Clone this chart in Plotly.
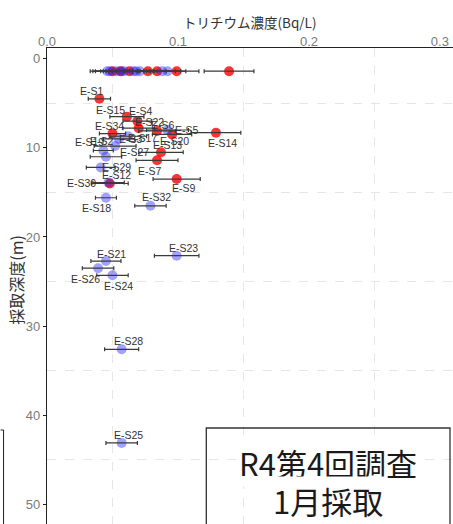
import plotly.graph_objects as go

# ---- data ----
names = ["", "", "", "", "", "", "", "", "", "", "", "", "", "", "", "", "",
         "E-S1", "E-S15", "E-S4", "E-S22", "E-S34", "E-S6", "E-S5", "E-S20", "E-S14",
         "E-S3", "E-S17", "E-S2", "E-S19", "E-S27", "E-S13", "E-S7", "E-S29", "E-S30",
         "E-S12", "E-S9", "E-S18", "E-S32", "E-S23", "E-S21", "E-S26", "E-S24", "E-S28", "E-S25"]
conc = [0.046, 0.050, 0.053, 0.056, 0.059, 0.063, 0.066, 0.071, 0.077, 0.084, 0.088, 0.092, 0.099, 0.139,
        0.048, 0.057, 0.068,
        0.040, 0.061, 0.069, 0.070, 0.050, 0.084, 0.092, 0.0955, 0.129,
        0.055, 0.062, 0.052, 0.043, 0.045, 0.087, 0.084, 0.041, 0.047,
        0.048, 0.099, 0.045, 0.079, 0.099, 0.045, 0.039, 0.050, 0.057, 0.057]
depth = [1.4, 1.4, 1.4, 1.4, 1.4, 1.4, 1.4, 1.4, 1.4, 1.4, 1.4, 1.4, 1.4, 1.4,
         1.4, 1.4, 1.4,
         4.5, 6.5, 7.0, 7.8, 8.4, 8.1, 8.0, 8.5, 8.3,
         9.0, 8.7, 9.8, 10.3, 11.0, 10.5, 11.4, 12.2, 13.9,
         14.0, 13.5, 15.6, 16.5, 22.1, 22.7, 23.5, 24.3, 32.6, 43.1]
err = [0.013, 0.013, 0.012, 0.013, 0.012, 0.013, 0.013, 0.013, 0.014, 0.014, 0.014, 0.014, 0.017, 0.019,
       0.013, 0.012, 0.013,
       0.0085, 0.013, 0.011, 0.012, 0.010, 0.014, 0.016, 0.015, 0.019,
       0.012, 0.014, 0.016, 0.0076, 0.012, 0.017, 0.016, 0.011, 0.012,
       0.014, 0.018, 0.008, 0.012, 0.017, 0.0115, 0.012, 0.012, 0.013, 0.012]
group = ["b", "r", "b", "r", "b", "r", "b", "b", "r", "r", "b", "b", "r", "r",
         "b", "b", "b",
         "r", "r", "r", "r", "r", "r", "b", "r", "r",
         "b", "b", "b", "b", "b", "r", "r", "b", "b",
         "r", "r", "b", "b", "b", "b", "b", "b", "b", "b"]
x_ticks = [0.0, 0.1, 0.2, 0.3]
x_ticklabels = ["0.0", "0.1", "0.2", "0.3"]
y_ticks = [0, 10, 20, 30, 40, 50]

# label offsets in screen pixels (dx right, dy down)
label_offsets = {
    "E-S1": (-7, -8), "E-S15": (-16, -7), "E-S4": (4, -10), "E-S22": (11, -6),
    "E-S34": (-3, -8), "E-S6": (6, -6), "E-S5": (20, 0), "E-S20": (2, 7),
    "E-S14": (7, 10), "E-S3": (12, 0), "E-S17": (14, 2), "E-S2": (-13, -5),
    "E-S19": (-14, -9), "E-S27": (29, -5), "E-S13": (7, -7), "E-S7": (-7, 11),
    "E-S29": (16, 0), "E-S30": (-27, 0), "E-S12": (7, -8), "E-S9": (7, 9),
    "E-S18": (-9, 10), "E-S32": (6, -9), "E-S23": (7, -8), "E-S21": (6, -7),
    "E-S26": (-13, 11), "E-S24": (6, 11), "E-S28": (7, -8), "E-S25": (7, -8),
}

fig = go.Figure()

for g, col in [("r", "rgba(255,0,0,0.8)"), ("b", "rgba(30,30,255,0.42)")]:
    idx = [i for i, v in enumerate(group) if v == g]
    fig.add_trace(go.Scatter(
        x=[conc[i] for i in idx], y=[depth[i] for i in idx], mode="markers",
        marker=dict(size=10, color=col, line=dict(width=0)),
        hoverinfo="skip", showlegend=False))

# error bars drawn on top
fig.add_trace(go.Scatter(
    x=conc, y=depth, mode="markers", marker=dict(size=1, opacity=0),
    error_x=dict(type="data", array=err, visible=True, color="#3a3a3a", thickness=1.2, width=2),
    hoverinfo="skip", showlegend=False))

annotations = []
for n, xv, yv in zip(names, conc, depth):
    if not n:
        continue
    dx, dy = label_offsets.get(n, (0, -8))
    annotations.append(dict(x=xv, y=yv, xref="x", yref="y", text=n, showarrow=False,
                            xshift=dx, yshift=-dy,
                            font=dict(family="Liberation Sans", size=10.5, color="#333333")))

annotations.append(dict(xref="paper", yref="paper", x=0.5, y=1, yshift=26, text="トリチウム濃度(Bq/L)",
                        showarrow=False, xanchor="center", yanchor="middle",
                        font=dict(family="Noto Sans CJK JP", size=13.5, color="#333333")))
annotations.append(dict(xref="paper", yref="y", x=0, xshift=-31, y=24.8, text="採取深度(m)",
                        showarrow=False, textangle=-90, xanchor="center", yanchor="middle",
                        font=dict(family="Noto Sans CJK JP", size=16, color="#333333")))
annotations.append(dict(xref="paper", yref="paper", x=(328 - 46.5) / 406.5, y=(524 - 462) / 476,
                        text="R4第4回調査", showarrow=False, xanchor="center", yanchor="middle",
                        bgcolor="white",
                        font=dict(family="Noto Sans CJK JP", size=31, color="#1a1a1a")))
annotations.append(dict(xref="paper", yref="paper", x=(328 - 46.5) / 406.5, y=(524 - 500) / 476,
                        text="1月採取", showarrow=False, xanchor="center", yanchor="middle",
                        bgcolor="white",
                        font=dict(family="Noto Sans CJK JP", size=31, color="#1a1a1a")))

shapes = [
    dict(type="rect", xref="paper", yref="paper",
         x0=(206 - 46.5) / 406.5, x1=(450 - 46.5) / 406.5,
         y0=-0.05, y1=(524 - 428) / 476,
         line=dict(color="#333333", width=1.3), fillcolor="rgba(255,255,255,0)", layer="above"),
    dict(type="line", xref="paper", yref="paper",
         x0=(0 - 46.5) / 406.5, x1=(3 - 46.5) / 406.5,
         y0=(524 - 430) / 476, y1=(524 - 430) / 476, line=dict(color="#222", width=1)),
    dict(type="line", xref="paper", yref="paper",
         x0=(3 - 46.5) / 406.5, x1=(3 - 46.5) / 406.5,
         y0=(524 - 430) / 476, y1=-0.01, line=dict(color="#222", width=1)),
]

fig.update_layout(
    width=453, height=524,
    margin=dict(l=46.5, r=0, t=48, b=0),
    paper_bgcolor="white", plot_bgcolor="white",
    annotations=annotations, shapes=shapes,
    xaxis=dict(side="top", range=[0, 0.31], tickvals=x_ticks, ticktext=x_ticklabels,
               showgrid=False, zeroline=False, showline=True, linecolor="#222", linewidth=1.2,
               ticks="", ticklabelstandoff=-4,
               tickfont=dict(family="Liberation Sans", size=13, color="#7a7a7a"),
               minor=dict(tickvals=[0.05, 0.15, 0.25], showgrid=True, gridcolor="#e6e6e6",
                          griddash="dash", gridwidth=1, ticks="")),
    yaxis=dict(range=[52.2, -1.2], tickvals=y_ticks,
               showgrid=False, zeroline=False, showline=True, linecolor="#222", linewidth=1.2,
               ticks="outside", ticklen=3, tickcolor="#222",
               tickfont=dict(family="Liberation Sans", size=13, color="#7a7a7a"),
               minor=dict(tickvals=[5, 15, 25, 35, 45], showgrid=True, gridcolor="#e6e6e6",
                          griddash="dash", gridwidth=1, ticks="")),
)

fig.write_html("out.html")
